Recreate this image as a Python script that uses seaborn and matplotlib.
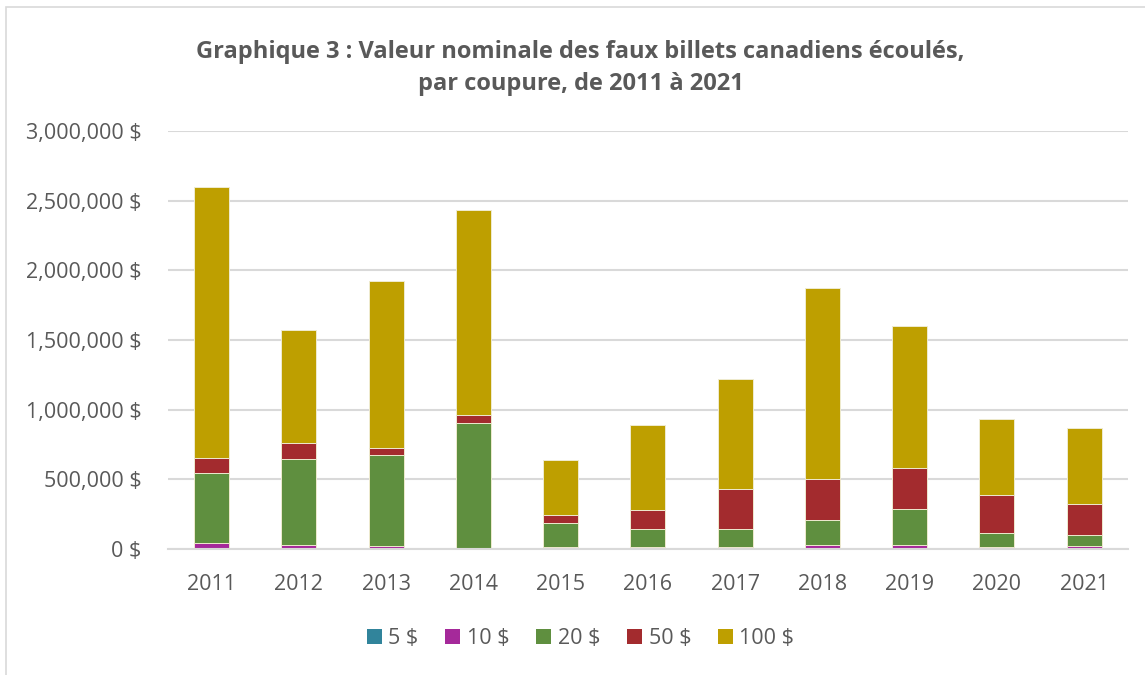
import matplotlib
matplotlib.use("Agg")
import matplotlib.pyplot as plt
from matplotlib.patches import Patch, Rectangle
from matplotlib.ticker import FuncFormatter
import numpy as np
import pandas as pd
import seaborn as sns

years = ["2011", "2012", "2013", "2014", "2015", "2016",
         "2017", "2018", "2019", "2020", "2021"]
denominations = ["5 $", "10 $", "20 $", "50 $", "100 $"]

v5 = [2000, 1000, 1000, 1000, 1000, 1000, 1500, 6000, 6000, 2000, 2000]
v10 = [41000, 28000, 18000, 9000, 12000, 11000, 14000, 22000, 22000, 15000, 18000]
v20 = [504000, 616000, 654000, 894000, 176000, 132000, 130000, 183000, 257000, 98000, 81000]
v50 = [105000, 115000, 51000, 57000, 53000, 139000, 286000, 288000, 295000, 271000, 220000]
v100 = [1948000, 808000, 1197000, 1473000, 400000, 609000, 788000, 1371000, 1019000, 549000, 549000]

colors = ["#31849B", "#A5299A", "#5F8F3F", "#A32B2E", "#BE9F00"]

sns.set_theme(style="white")
plt.rcParams["font.family"] = ["Open Sans", "DejaVu Sans"]
text_color = "#595959"
grid_color = "#D9D9D9"

df = pd.DataFrame({"year": years, "5 $": v5, "10 $": v10, "20 $": v20,
                   "50 $": v50, "100 $": v100})
cum = df[denominations].cumsum(axis=1)

fig = plt.figure(figsize=(11.45, 6.75), dpi=100)
ax = fig.add_axes([0.1467, 0.1867, 0.8383, 0.6193])

# stacked bars: draw running totals from the top segment down
for name, col in reversed(list(zip(denominations, colors))):
    sns.barplot(x=df["year"], y=cum[name], color=col, width=0.4, ax=ax,
                edgecolor="#EFEBD0", linewidth=0.7, saturation=1)

ax.set_ylim(0, 3000000)
ax.set_yticks(np.arange(0, 3000001, 500000))
ax.yaxis.set_major_formatter(FuncFormatter(lambda v, p: f"{int(v):,} $"))
ax.grid(axis="y", color=grid_color, linewidth=1.5)
ax.set_axisbelow(True)
for s in ["top", "right", "left"]:
    ax.spines[s].set_visible(False)
ax.spines["bottom"].set_color(grid_color)
ax.spines["bottom"].set_linewidth(1.5)
ax.tick_params(axis="both", length=0, labelsize=15.5, colors=text_color)
ax.tick_params(axis="y", pad=19)
ax.tick_params(axis="x", pad=18)
ax.set_xlabel("")
ax.set_ylabel("")

fig.text(0.507, 0.899,
         "Graphique 3 : Valeur nominale des faux billets canadiens écoulés,\npar coupure, de 2011 à 2021",
         ha="center", va="center", fontsize=17, fontweight="bold",
         color=text_color, linespacing=1.45)

handles = [Patch(facecolor=c, edgecolor="none") for c in colors]
fig.legend(handles, denominations, loc="center", bbox_to_anchor=(0.507, 0.054),
           ncol=5, frameon=False, fontsize=15.5, labelcolor=text_color,
           handlelength=0.7, handleheight=0.7, handletextpad=0.3,
           columnspacing=1.25)

# outer chart border
fig.patches.append(Rectangle((6 / 1145, -0.01), 1.05, 1 - 7 / 675 + 0.01,
                             transform=fig.transFigure, fill=False,
                             edgecolor="#D9D9D9", linewidth=1.2))

fig.savefig("out.png", dpi=100)
